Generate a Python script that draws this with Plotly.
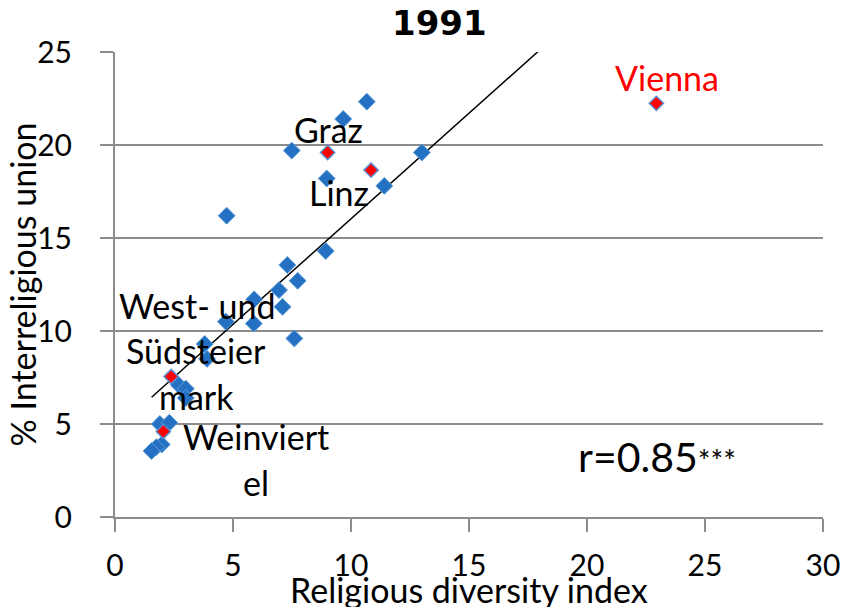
import plotly.graph_objects as go

# ---- data ----
blue_x = [10.67, 9.67, 7.49, 13.0, 8.97, 11.41, 4.73, 8.93, 7.3, 7.74, 6.95, 5.9, 7.1,
          4.7, 5.88, 7.6, 3.8, 3.9, 2.7, 3.0, 3.0, 1.9, 2.3, 1.98, 1.75, 1.55]
blue_y = [22.33, 21.4, 19.7, 19.6, 18.2, 17.8, 16.2, 14.3, 13.55, 12.7, 12.2, 11.7, 11.3,
          10.5, 10.4, 9.6, 9.3, 8.5, 7.1, 6.9, 6.4, 5.0, 5.07, 3.9, 3.75, 3.55]

red_names = ["Vienna", "Graz", "Linz", "West- und Südsteiermark", "Weinviertel"]
red_x = [22.94, 9.01, 10.85, 2.38, 2.05]
red_y = [22.24, 19.6, 18.65, 7.55, 4.6]

trend_slope = 1.135
trend_intercept = 4.68

title_text = "1991"
x_title = "Religious diversity index"
y_title = "% Interreligious union"
r_text = "r=0.85"
r_stars = "***"

x_ticks = [0, 5, 10, 15, 20, 25, 30]
y_ticks = [0, 5, 10, 15, 20, 25]

# label lines as wrapped in the original (line, x, y, colour)
label_lines = [
    ("Vienna", 23.38, 23.65, "red"),
    ("Graz", 9.06, 20.85, "black"),
    ("Linz", 9.48, 17.45, "black"),
    ("West- und", 3.46, 11.35, "black"),
    ("Südsteier", 3.42, 8.95, "black"),
    ("mark", 3.46, 6.5, "black"),
    ("Weinviert", 5.99, 4.35, "black"),
    ("el", 5.97, 1.85, "black"),
]

FONT = "Lato, Open Sans, sans-serif"

all_x = blue_x + red_x
tx = [min(all_x), max(all_x)]
ty = [trend_slope * v + trend_intercept for v in tx]

fig = go.Figure()
fig.add_trace(go.Scatter(
    x=tx, y=ty, mode="lines",
    line=dict(color="black", width=1.5), hoverinfo="skip", showlegend=False))
fig.add_trace(go.Scatter(
    x=blue_x, y=blue_y, mode="markers",
    marker=dict(symbol="diamond", size=13, color="#2471C3",
                line=dict(color="#5B9BD5", width=1)),
    showlegend=False, cliponaxis=False))
fig.add_trace(go.Scatter(
    x=red_x, y=red_y, mode="markers", text=red_names,
    marker=dict(symbol="diamond", size=11, color="#FF0000",
                line=dict(color="#5B8FD0", width=1.5)),
    showlegend=False, cliponaxis=False))

for txt, lx, ly, col in label_lines:
    fig.add_annotation(x=lx, y=ly, xref="x", yref="y", text=txt, showarrow=False,
                       font=dict(family=FONT, size=34, color=col),
                       xanchor="center", yanchor="middle")

fig.add_annotation(x=22.95, y=3.25, xref="x", yref="y",
                   text=r_text + "<span style='font-size:30px'>" + r_stars + "</span>",
                   showarrow=False, font=dict(family=FONT, size=41, color="black"),
                   xanchor="center", yanchor="middle")

fig.add_annotation(x=0.459, y=1.0, xref="paper", yref="paper", yshift=29,
                   text="<b>" + title_text + "</b>", showarrow=False,
                   font=dict(family="DejaVu Sans", size=34, color="black"),
                   xanchor="center", yanchor="middle")

fig.add_annotation(x=0.5, y=0, xref="paper", yref="paper", yshift=-72,
                   text=x_title, showarrow=False,
                   font=dict(family=FONT, size=34, color="black"),
                   xanchor="center", yanchor="middle")

fig.add_annotation(x=-0.13, y=0.5, xref="paper", yref="paper",
                   text=y_title, showarrow=False, textangle=-90,
                   font=dict(family=FONT, size=34, color="black"),
                   xanchor="center", yanchor="middle")

fig.update_layout(
    width=846, height=607,
    margin=dict(l=115, r=23, t=52, b=90),
    paper_bgcolor="white", plot_bgcolor="white",
    font=dict(family=FONT, size=30, color="black"),
)
fig.update_xaxes(range=[0, 30], tickvals=x_ticks, ticktext=[str(v) for v in x_ticks],
                 automargin=False,
                 showgrid=False, zeroline=False, showline=True, linecolor="#8C8C8C",
                 linewidth=2, ticks="outside", ticklen=13, tickwidth=1.5,
                 tickcolor="#8C8C8C", ticklabelstandoff=8,
                 tickfont=dict(family=FONT, size=30, color="black"))
fig.update_yaxes(range=[0, 25], tickvals=y_ticks, ticktext=[str(v) for v in y_ticks],
                 automargin=False,
                 showgrid=True, gridcolor="#8C8C8C", gridwidth=2,
                 zeroline=False, showline=True, linecolor="#8C8C8C",
                 linewidth=2, ticks="outside", ticklen=13, tickwidth=1.5,
                 tickcolor="#8C8C8C", ticklabelstandoff=22,
                 tickfont=dict(family=FONT, size=30, color="black"))

fig.write_html("out.html", config={"displayModeBar": False},
               post_script="document.body.style.margin='0';document.body.style.overflow='hidden';")
